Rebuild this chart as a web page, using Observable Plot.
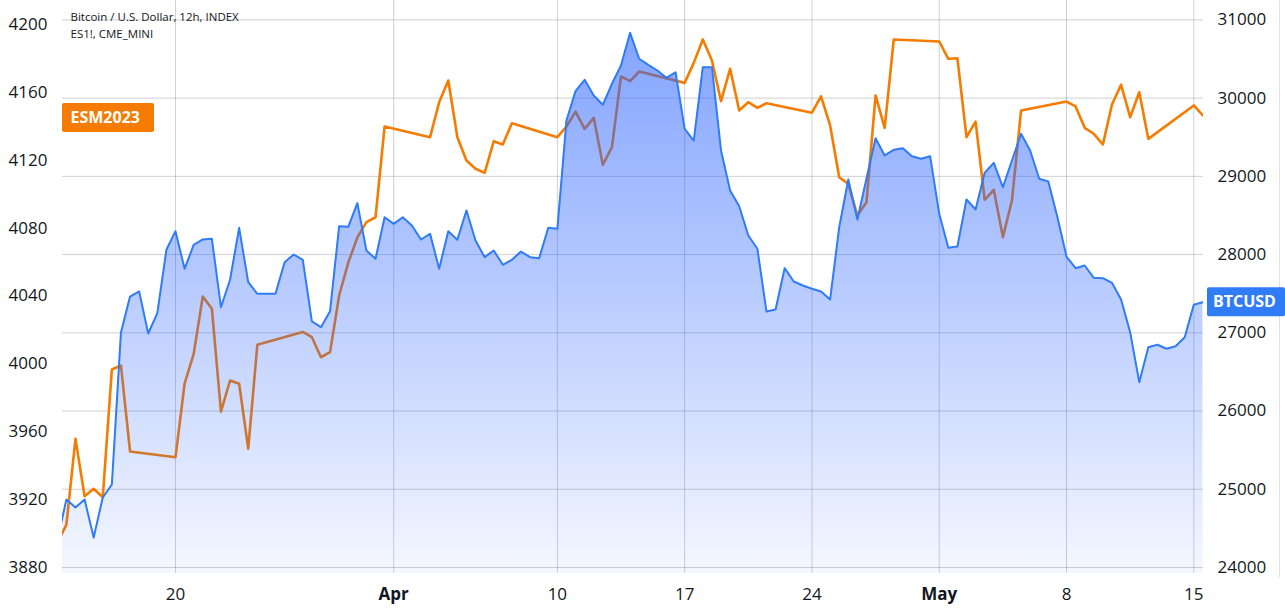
<!DOCTYPE html>
<html>
<head>
<meta charset="utf-8">
<script src="https://cdn.jsdelivr.net/npm/d3@7"></script>
<script src="https://cdn.jsdelivr.net/npm/@observablehq/plot@0.6"></script>
<style>
  html, body { margin: 0; padding: 0; background: #ffffff; }
  #chart { width: 1285px; height: 610px; }
</style>
</head>
<body>
<div id="chart"></div>
<script>
// ---------- DATA ----------
// 12h bars starting at this timestamp (UTC)
const barStart = "2023-03-13T12:00:00Z";
const barHours = 12;

// Bitcoin / U.S. Dollar (INDEX), 12h closes (right axis)
const btcValues = [
  24345, 24869, 24767, 24869, 24383, 24895, 25061, 27004, 27464, 27528, 26991, 27251, 28061,
  28299, 27818, 28125, 28193, 28202, 27327, 27678, 28342, 27647, 27499, 27499, 27499, 27903,
  28001, 27933, 27145, 27072, 27276, 28363, 28355, 28657, 28052, 27946, 28478, 28393, 28478,
  28372, 28193, 28266, 27818, 28299, 28189, 28564, 28180, 27967, 28052, 27869, 27933, 28039,
  27967, 27954, 28342, 28330, 29714, 30089, 30234, 30034, 29915, 30183, 30417, 30835, 30503,
  30426, 30353, 30260, 30331, 29608, 29458, 30395, 30395, 29331, 28819, 28618, 28244, 28074,
  27272, 27298, 27826, 27656, 27605, 27563, 27528, 27426, 28350, 28960, 28448, 28973, 29488,
  29267, 29339, 29360, 29258, 29224, 29258, 28521, 28087, 28103, 28704, 28576, 29045, 29173,
  28861, 29203, 29544, 29331, 28969, 28934, 28478, 27975, 27826, 27860, 27703, 27698, 27639,
  27426, 27008, 26369, 26816, 26847, 26796, 26829, 26944, 27358, 27391
];

// ES1! (CME_MINI) on the same 12h grid, null where the market is closed (left axis)
const esValues = [
  3894.7, 3905.3, 3955.8, 3922.0, 3926.4, 3921.4, 3996.7, 3999.0, 3948.4,
  null, null, null, null,
  3945.0, 3988.3, 4005.9, 4039.7, 4032.5, 3971.9, 3990.2, 3988.3, 3950.0, 4011.2,
  null, null, null, null,
  4018.8, 4015.7, 4003.9, 4006.9, 4040.3, 4059.7, 4074.5, 4083.5, 4086.4, 4139.9,
  null, null, null, null,
  4133.6, 4154.2, 4167.0, 4133.6, 4119.9, 4115.0, 4112.6, 4131.2, 4129.3, 4141.8,
  null, null, null, null,
  4133.6, 4139.9, 4148.7, 4138.5, 4145.0, 4117.3, 4127.7, 4169.4, 4166.6, 4172.3,
  null, null, null, null,
  4165.6, 4177.4, 4191.2, 4178.8, 4154.8, 4173.9, 4149.3, 4154.2, 4150.9, 4153.6,
  null, null, null, null,
  4148.0, 4157.7, 4140.5, 4110.0, 4106.1, 4087.4, 4095.3, 4158.2, 4139.1, 4191.2,
  null, null, null, null,
  4190.0, 4179.8, 4180.1, 4133.6, 4142.8, 4096.7, 4102.6, 4074.7, 4096.3, 4149.3,
  null, null, null, null,
  4154.6, 4151.7, 4139.1, 4135.6, 4129.3, 4152.9, 4164.5, 4145.4, 4160.1, 4132.6,
  null, null, null, null,
  4152.3, 4146.4
];

const btcTicks = [24000, 25000, 26000, 27000, 28000, 29000, 30000, 31000];
const esTicks = [3880, 3920, 3960, 4000, 4040, 4080, 4120, 4160, 4200];
const dayTickDates = ["2023-03-20", "2023-04-10", "2023-04-17", "2023-04-24", "2023-05-08", "2023-05-15"];
const dayTickLabels = ["20", "10", "17", "24", "8", "15"];
const monthTickDates = ["2023-04-01", "2023-05-01"];
const monthTickLabels = ["Apr", "May"];
const headerLines = ["Bitcoin / U.S. Dollar, 12h, INDEX", "ES1!, CME_MINI"];
const seriesLabels = ["BTCUSD", "ESM2023"];

// ---------- SCALES / LAYOUT ----------
const W = 1285, H = 610;
const xDomain = [new Date("2023-03-13T18:51:00Z"), new Date("2023-05-15T12:48:00Z")];
const yDomain = [23923, 31248];
// left axis (ES) aligned onto the right axis (BTC) coordinates
const esToBtc = d3.scaleLinear([3880, 4200], [24000, 30941]);

const BLUE = "#2F7CF6";
const ORANGE = "#F57C00";
const TEXT = "#131722";

const t0 = new Date(barStart);
const btcData = btcValues.map((v, i) => ({date: d3.utcHour.offset(t0, barHours * i), btc: v}));
const esData = esValues
  .map((v, i) => ({date: d3.utcHour.offset(t0, barHours * i), es: v}))
  .filter(d => d.es != null)
  .map(d => ({...d, y: esToBtc(d.es)}));

const dayTicks = dayTickDates.map(s => new Date(s + "T00:00:00Z"));
const monthTicks = monthTickDates.map(s => new Date(s + "T00:00:00Z"));
const allTicks = [...dayTicks, ...monthTicks];
const labelOf = (ticks, labels) => d => labels[ticks.findIndex(t => +t === +d)];

const lastBtc = btcValues[btcValues.length - 1];
const lastEs = esData[esData.length - 1].es;

const gradientDefs = () => {
  const defs = d3.create("svg:defs");
  const lg = defs.append("linearGradient").attr("id", "btcFill")
    .attr("x1", 0).attr("y1", 0).attr("x2", 0).attr("y2", 1);
  lg.append("stop").attr("offset", "0%").attr("stop-color", "#2962FF").attr("stop-opacity", 0.58);
  lg.append("stop").attr("offset", "100%").attr("stop-color", "#2962FF").attr("stop-opacity", 0.05);
  return defs.node();
};

const priceLabels = (index, scales, values, dimensions) => {
  const g = d3.create("svg:g").attr("text-anchor", "start");
  const {width, height, marginRight, marginLeft, marginBottom} = dimensions;
  // right pane border
  g.append("line").attr("x1", width - 5.5).attr("x2", width - 5.5)
    .attr("y1", 0).attr("y2", height - marginBottom + 4)
    .attr("stroke", "#e0e3eb").attr("stroke-width", 1);
  const yb = scales.y(lastBtc);
  const ye = scales.y(esToBtc(lastEs));
  const bx = width - marginRight + 4;
  g.append("rect").attr("x", bx).attr("y", yb - 14.5).attr("width", width - bx).attr("height", 29)
    .attr("rx", 2).attr("fill", BLUE);
  g.append("text").attr("x", bx + 6).attr("y", yb).attr("dy", "0.36em").attr("text-anchor", "start")
    .attr("fill", "#fff").attr("font-weight", "bold").attr("font-size", 16)
    .text(seriesLabels[0]);
  g.append("rect").attr("x", marginLeft).attr("y", ye - 12).attr("width", 92).attr("height", 29)
    .attr("rx", 2).attr("fill", ORANGE);
  g.append("text").attr("x", marginLeft + 8.5).attr("y", ye + 2.5).attr("dy", "0.36em").attr("text-anchor", "start")
    .attr("fill", "#fff").attr("font-weight", "bold").attr("font-size", 16)
    .text(seriesLabels[1]);
  return g.node();
};

const chart = Plot.plot({
  width: W,
  height: H,
  marginLeft: 62,
  marginRight: 82,
  marginTop: 0,
  marginBottom: 37,
  style: {fontFamily: "'Open Sans', 'Noto Sans', sans-serif", fontSize: "17px", color: TEXT, background: "#fff"},
  x: {type: "utc", domain: xDomain},
  y: {domain: yDomain},
  marks: [
    gradientDefs,
    Plot.gridY(btcTicks, {stroke: "#2a2e39", strokeOpacity: 0.22, strokeWidth: 1}),
    Plot.gridX(allTicks, {stroke: "#2a2e39", strokeOpacity: 0.22, strokeWidth: 1}),
    Plot.line(esData, {x: "date", y: "y", stroke: ORANGE, strokeWidth: 2.6, clip: true}),
    Plot.areaY(btcData, {x: "date", y1: yDomain[0], y2: "btc", fill: "url(#btcFill)", clip: true}),
    Plot.line(btcData, {x: "date", y: "btc", stroke: BLUE, strokeWidth: 2, clip: true}),
    Plot.axisY({anchor: "right", ticks: btcTicks, tickSize: 0, tickPadding: 14, label: null, tickFormat: d => String(d)}),
    Plot.axisY({anchor: "left", ticks: esTicks.map(esToBtc), tickSize: 0, tickPadding: 15, label: null,
                tickFormat: d => String(Math.round(esToBtc.invert(d)))}),
    Plot.axisX({ticks: dayTicks, tickSize: 0, tickPadding: 14, label: null, tickFormat: labelOf(dayTicks, dayTickLabels)}),
    Plot.axisX({ticks: monthTicks, tickSize: 0, tickPadding: 14, label: null, fontWeight: "bold",
                tickFormat: labelOf(monthTicks, monthTickLabels)}),
    Plot.text([headerLines.join("\n")], {text: d => d, frameAnchor: "top-left", dx: 8, dy: 8,
      lineAnchor: "top", fontSize: 11.5, lineHeight: 1.5, fill: TEXT, textAnchor: "start"}),
    priceLabels
  ]
});
document.getElementById("chart").appendChild(chart);
</script>
</body>
</html>
